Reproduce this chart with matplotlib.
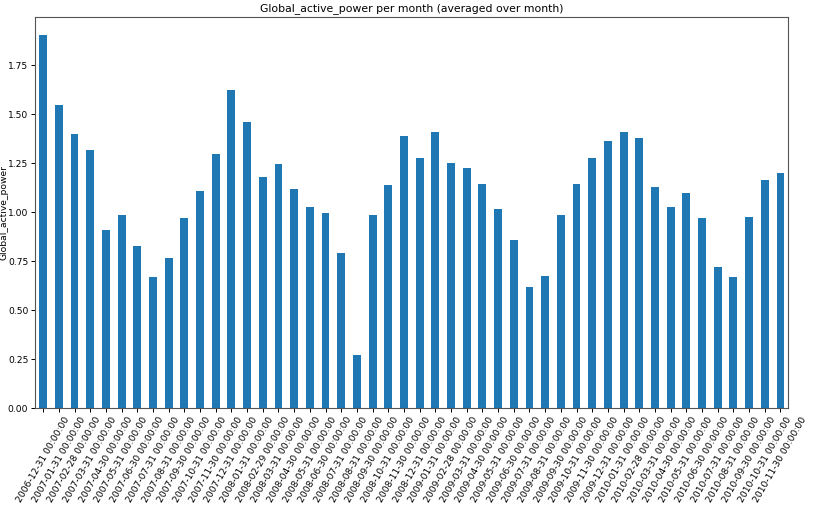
"""Monthly averaged Global_active_power as a bar chart."""

import matplotlib
matplotlib.use("Agg")
import matplotlib.pyplot as plt
import numpy as np

months = [
    "2006-12-31", "2007-01-31", "2007-02-28", "2007-03-31", "2007-04-30", "2007-05-31",
    "2007-06-30", "2007-07-31", "2007-08-31", "2007-09-30", "2007-10-31", "2007-11-30",
    "2007-12-31", "2008-01-31", "2008-02-29", "2008-03-31", "2008-04-30", "2008-05-31",
    "2008-06-30", "2008-07-31", "2008-08-31", "2008-09-30", "2008-10-31", "2008-11-30",
    "2008-12-31", "2009-01-31", "2009-02-28", "2009-03-31", "2009-04-30", "2009-05-31",
    "2009-06-30", "2009-07-31", "2009-08-31", "2009-09-30", "2009-10-31", "2009-11-30",
    "2009-12-31", "2010-01-31", "2010-02-28", "2010-03-31", "2010-04-30", "2010-05-31",
    "2010-06-30", "2010-07-31", "2010-08-31", "2010-09-30", "2010-10-31", "2010-11-30",
]
tick_labels = [f"{m} 00:00:00" for m in months]

power = [
    1.903, 1.547, 1.401, 1.318, 0.909, 0.987, 0.826, 0.669, 0.766, 0.969, 1.107, 1.296,
    1.626, 1.461, 1.180, 1.246, 1.117, 1.025, 0.998, 0.793, 0.274, 0.987, 1.139, 1.387,
    1.277, 1.410, 1.250, 1.226, 1.144, 1.016, 0.858, 0.620, 0.674, 0.987, 1.144, 1.277,
    1.364, 1.410, 1.379, 1.129, 1.028, 1.098, 0.969, 0.720, 0.669, 0.974, 1.166, 1.199,
]

fig = plt.figure(figsize=(8.13, 5.05), dpi=100)
ax = fig.add_axes([35.3 / 813, 1 - 408.3 / 505, (788.3 - 35.3) / 813, (408.3 - 16.7) / 505])

x = np.arange(len(power))
ax.bar(x, power, width=0.5, color="#1f77b4")
ax.set_xlim(-0.5, len(power) - 0.5)
ax.set_ylim(0, max(power) * 1.05)
ax.set_yticks([0.0, 0.25, 0.5, 0.75, 1.0, 1.25, 1.5, 1.75])
ax.yaxis.set_major_formatter(matplotlib.ticker.FormatStrFormatter("%.2f"))
ax.set_xticks(x)
ax.set_xticklabels(tick_labels, rotation=60, fontsize=6.6)
ax.tick_params(axis="y", labelsize=6.6, length=3, width=0.7, pad=2)
ax.tick_params(axis="x", length=3, width=0.7, pad=2)
for spine in ax.spines.values():
    spine.set_linewidth(0.8)
    spine.set_color("#555555")

ax.set_title("Global_active_power per month (averaged over month)", fontsize=7.8, pad=4)
# tucked right against the left edge, like the screenshot, but kept whole
ax.set_ylabel("Global_active_power", fontsize=6.6)
ax.yaxis.set_label_coords(-0.035, 0.5)

fig.savefig("out.png", dpi=100)
